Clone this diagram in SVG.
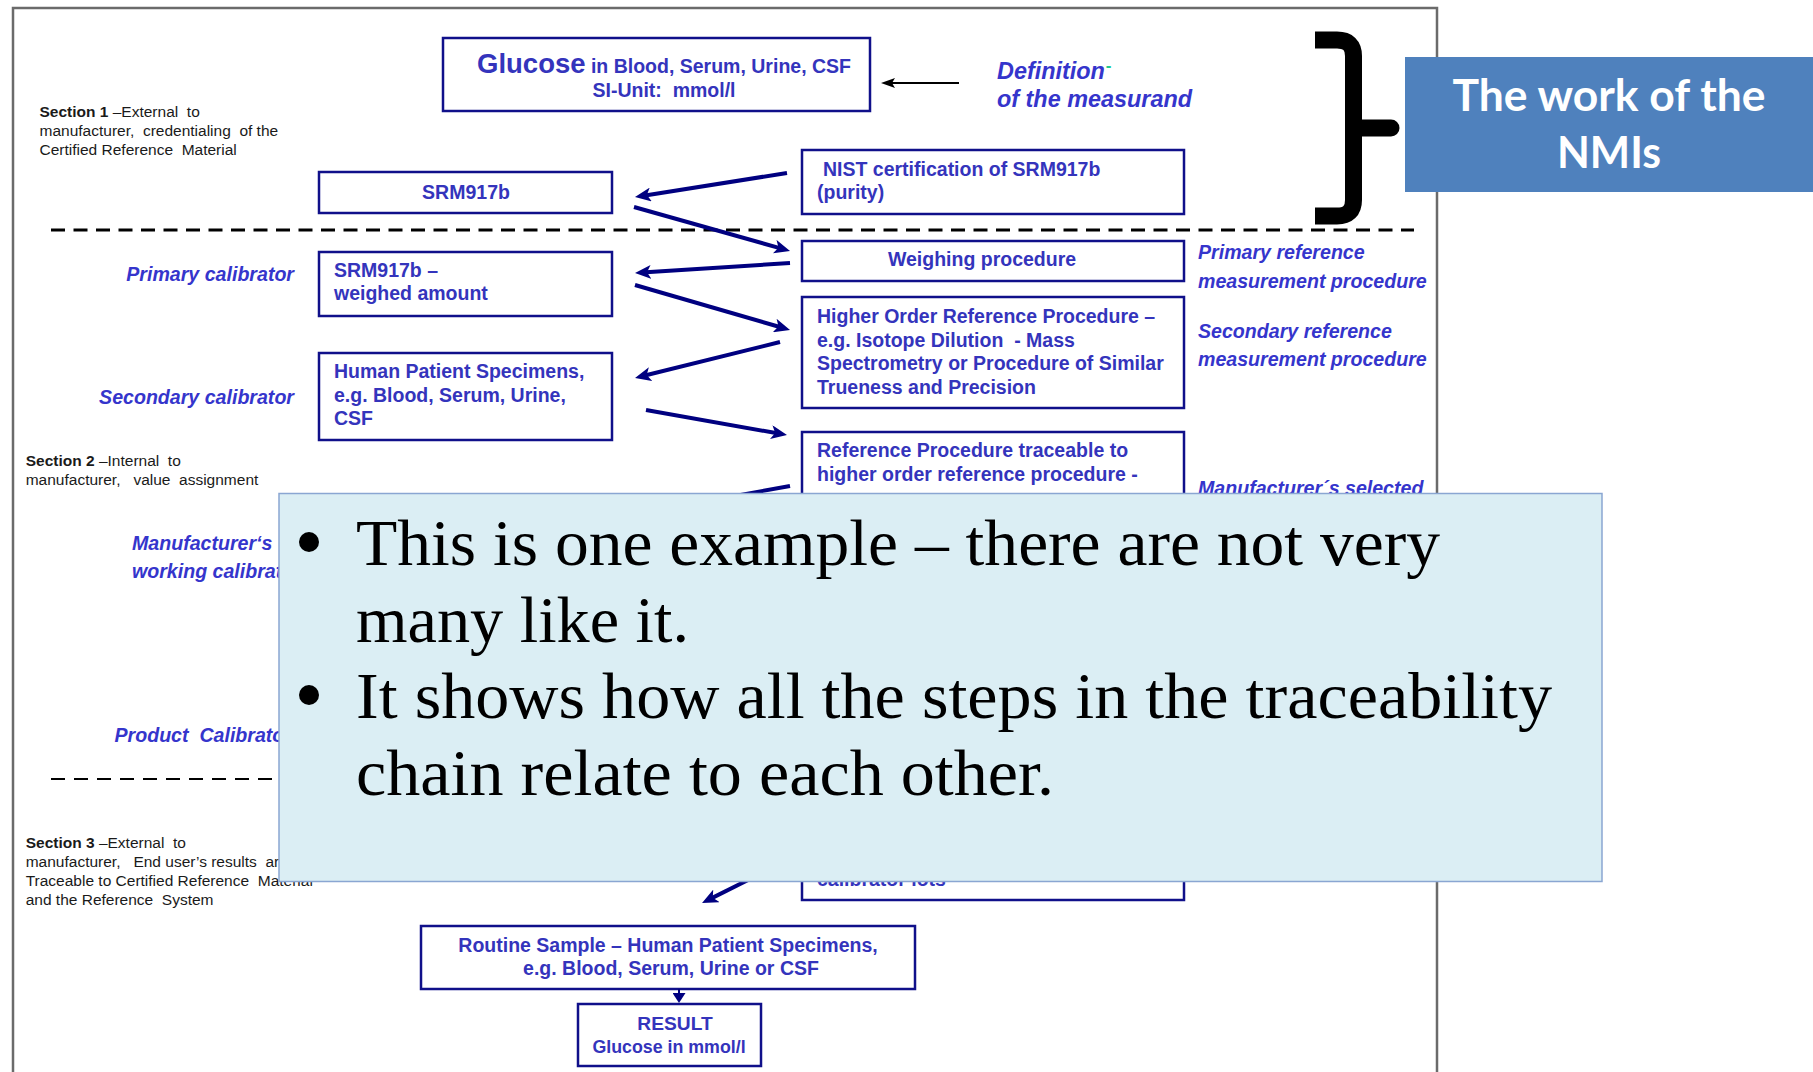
<svg xmlns="http://www.w3.org/2000/svg" width="1813" height="1072" viewBox="0 0 1813 1072">
  <style>
    .frame { fill: none; stroke: #6b6b6b; stroke-width: 2.5; }
    .box { fill: #ffffff; stroke: #10108a; stroke-width: 2.5; }
    .bt { font-family: "Liberation Sans", Arial, sans-serif; font-weight: bold; font-size: 19.5px; fill: #3434bc; }
    .lbl { font-family: "Liberation Sans", Arial, sans-serif; font-weight: bold; font-style: italic; font-size: 19.6px; fill: #3535cc; }
    .sec { font-family: "Liberation Sans", Arial, sans-serif; font-size: 15.5px; fill: #1a1a1a; }
    .secb { font-weight: bold; }
    .dash1 { stroke: #000; stroke-width: 3.2; stroke-dasharray: 14 8.5; fill: none; }
    .dash2 { stroke: #000; stroke-width: 2.2; stroke-dasharray: 14 9; fill: none; }
    .link { stroke: #000080; stroke-width: 4; fill: none; marker-end: url(#navyHead); }
    .note { font-family: "Liberation Serif", "Times New Roman", serif; font-size: 66px; fill: #000; }
  </style>
  <defs>
    <marker id="navyHead" markerUnits="userSpaceOnUse" markerWidth="16" markerHeight="14" viewBox="0 0 16 14" refX="9" refY="7" orient="auto">
      <path d="M0,0 L16,7 L0,14 L4,7 z" fill="#000080"/>
    </marker>
    <marker id="blackHead" markerUnits="userSpaceOnUse" markerWidth="14" markerHeight="10" viewBox="0 0 14 10" refX="8" refY="5" orient="auto">
      <path d="M0,0 L14,5 L0,10 L3,5 z" fill="#000"/>
    </marker>
    <marker id="tinyHead" markerUnits="userSpaceOnUse" markerWidth="10" markerHeight="13" viewBox="0 0 10 13" refX="0" refY="6.5" orient="auto">
      <path d="M0,0 L10,6.5 L0,13 z" fill="#000080"/>
    </marker>
  </defs>

  <rect width="1813" height="1072" fill="#ffffff"/>

  <!-- page frame (open at the bottom) -->
  <path class="frame" d="M13,1072 V8 H1437 V1072"/>

  <!-- section separators -->
  <line class="dash1" x1="51" y1="230" x2="1414" y2="230"/>
  <line class="dash2" x1="51" y1="779" x2="1414" y2="779"/>

  <!-- section captions -->
  <g id="section1">
    <text class="sec" x="39.5" y="117" xml:space="preserve"><tspan class="secb">Section 1</tspan> –External  to</text>
    <text class="sec" x="39.5" y="136" xml:space="preserve">manufacturer,  credentialing  of the</text>
    <text class="sec" x="39.5" y="155" xml:space="preserve">Certified Reference  Material</text>
  </g>
  <g id="section2">
    <text class="sec" x="25.7" y="466" xml:space="preserve"><tspan class="secb">Section 2</tspan> –Internal  to</text>
    <text class="sec" x="25.7" y="485" xml:space="preserve">manufacturer,   value  assignment</text>
  </g>
  <g id="section3">
    <text class="sec" x="25.7" y="848" xml:space="preserve"><tspan class="secb">Section 3</tspan> –External  to</text>
    <text class="sec" x="25.7" y="867" xml:space="preserve">manufacturer,   End user’s results  are</text>
    <text class="sec" x="25.7" y="886" xml:space="preserve">Traceable to Certified Reference  Material</text>
    <text class="sec" x="25.7" y="905" xml:space="preserve">and the Reference  System</text>
  </g>

  <!-- level labels, left column -->
  <g id="labels-left">
    <text class="lbl" x="294" y="281" text-anchor="end">Primary calibrator</text>
    <text class="lbl" x="294" y="404" text-anchor="end">Secondary calibrator</text>
    <text class="lbl" x="132" y="550">Manufacturer‘s</text>
    <text class="lbl" x="132" y="578">working calibrator</text>
    <text class="lbl" x="114.5" y="742" xml:space="preserve">Product  Calibrator</text>
  </g>

  <!-- level labels, right column -->
  <g id="labels-right">
    <text class="lbl" x="1198" y="259">Primary reference</text>
    <text class="lbl" x="1198" y="288">measurement procedure</text>
    <text class="lbl" x="1198" y="338">Secondary reference</text>
    <text class="lbl" x="1198" y="366">measurement procedure</text>
    <text class="lbl" x="1198" y="495">Manufacturer´s selected</text>
  </g>

  <!-- measurand definition -->
  <g id="definition">
    <text class="lbl" x="997" y="79" style="font-size:23.4px">Definition<tspan dx="1" dy="-8" style="font-size:17px;fill:#22c98f;font-style:normal">-</tspan></text>
    <text class="lbl" x="997" y="107" style="font-size:23.4px">of the measurand</text>
  </g>

  <!-- nodes -->
  <g id="glucose">
    <rect class="box" x="443" y="38" width="427" height="73"/>
    <text class="bt" x="664" y="73" text-anchor="middle"><tspan style="font-size:27.5px">Glucose</tspan> in Blood, Serum, Urine, CSF</text>
    <text class="bt" x="664" y="97" text-anchor="middle" xml:space="preserve">SI-Unit:  mmol/l</text>
  </g>

  <g id="srm917b">
    <rect class="box" x="319" y="172" width="293" height="41"/>
    <text class="bt" x="466" y="199" text-anchor="middle">SRM917b</text>
  </g>

  <g id="nist">
    <rect class="box" x="802" y="150" width="382" height="64"/>
    <text class="bt" x="823" y="176">NIST certification of SRM917b</text>
    <text class="bt" x="817" y="199">(purity)</text>
  </g>

  <g id="primary-calibrator">
    <rect class="box" x="319" y="252" width="293" height="64"/>
    <text class="bt" x="334" y="277">SRM917b –</text>
    <text class="bt" x="334" y="300">weighed amount</text>
  </g>

  <g id="weighing">
    <rect class="box" x="802" y="241" width="382" height="40"/>
    <text class="bt" x="982" y="266" text-anchor="middle">Weighing procedure</text>
  </g>

  <g id="higher-order">
    <rect class="box" x="802" y="297" width="382" height="111"/>
    <text class="bt" x="817" y="323">Higher Order Reference Procedure –</text>
    <text class="bt" x="817" y="347" xml:space="preserve">e.g. Isotope Dilution  - Mass</text>
    <text class="bt" x="817" y="370">Spectrometry or Procedure of Similar</text>
    <text class="bt" x="817" y="394">Trueness and Precision</text>
  </g>

  <g id="secondary-calibrator">
    <rect class="box" x="319" y="353" width="293" height="87"/>
    <text class="bt" x="334" y="378">Human Patient Specimens,</text>
    <text class="bt" x="334" y="401.5">e.g. Blood, Serum, Urine,</text>
    <text class="bt" x="334" y="425">CSF</text>
  </g>

  <g id="reference-procedure">
    <rect class="box" x="802" y="432" width="382" height="468"/>
    <text class="bt" x="817" y="457">Reference Procedure traceable to</text>
    <text class="bt" x="817" y="481">higher order reference procedure -</text>
    <text class="bt" x="817" y="886">calibrator lots</text>
  </g>

  <g id="routine-sample">
    <rect class="box" x="421" y="926" width="494" height="63"/>
    <text class="bt" x="668" y="952" text-anchor="middle">Routine Sample – Human Patient Specimens,</text>
    <text class="bt" x="671" y="975" text-anchor="middle">e.g. Blood, Serum, Urine or CSF</text>
  </g>

  <g id="result">
    <rect class="box" x="578" y="1004" width="183" height="62"/>
    <text class="bt" x="675" y="1030" text-anchor="middle" style="font-size:19.2px">RESULT</text>
    <text class="bt" x="669" y="1053" text-anchor="middle" style="font-size:17.8px">Glucose in mmol/l</text>
  </g>

  <!-- connectors -->
  <g id="connectors">
    <line x1="959" y1="83" x2="887" y2="83" stroke="#000" stroke-width="2" marker-end="url(#blackHead)"/>
    <line class="link" x1="787" y1="173" x2="641.9" y2="195.9"/>
    <line class="link" x1="634" y1="207" x2="783.3" y2="249.1"/>
    <line class="link" x1="790" y1="263" x2="642" y2="272.6"/>
    <line class="link" x1="635" y1="285" x2="783.3" y2="328"/>
    <line class="link" x1="780" y1="342" x2="641.8" y2="376.3"/>
    <line class="link" x1="646" y1="410" x2="780.1" y2="433.8"/>
    <line x1="790" y1="486" x2="735" y2="496" stroke="#000080" stroke-width="4"/>
    <line class="link" x1="762" y1="873" x2="708.3" y2="899.9"/>
    <line x1="679" y1="989" x2="679" y2="993" stroke="#000080" stroke-width="2" marker-end="url(#tinyHead)"/>
  </g>

  <!-- brace and caption box -->
  <g id="nmi-brace">
    <path d="M1315,40 H1337 Q1353.5,40 1353.5,56 V200 Q1353.5,216 1337,216 H1315" fill="none" stroke="#000" stroke-width="17"/>
    <line x1="1353.5" y1="128" x2="1391" y2="128" stroke="#000" stroke-width="17" stroke-linecap="round"/>
  </g>
  <g id="nmi-caption">
    <rect x="1405" y="57" width="408" height="135" fill="#4f81bd"/>
    <text x="1609" y="111" text-anchor="middle" font-family="Lato, 'Open Sans', sans-serif" font-weight="700" font-size="44" fill="#ffffff" textLength="313" lengthAdjust="spacingAndGlyphs">The work of the</text>
    <text x="1609" y="168" text-anchor="middle" font-family="Lato, 'Open Sans', sans-serif" font-weight="700" font-size="44" fill="#ffffff" textLength="104" lengthAdjust="spacingAndGlyphs">NMIs</text>
  </g>

  <!-- annotation panel -->
  <g id="note">
    <rect x="279" y="493.5" width="1323" height="388" fill="#dbeef4" stroke="#8aa6d2" stroke-width="1.5"/>
    <circle cx="309" cy="542" r="10" fill="#000"/>
    <circle cx="309" cy="695" r="10" fill="#000"/>
    <text class="note" x="356" y="565" textLength="1084" lengthAdjust="spacingAndGlyphs">This is one example – there are not very</text>
    <text class="note" x="356" y="642" textLength="333" lengthAdjust="spacingAndGlyphs">many like it.</text>
    <text class="note" x="356" y="718" textLength="1196" lengthAdjust="spacingAndGlyphs">It shows how all the steps in the traceability</text>
    <text class="note" x="356" y="795" textLength="698" lengthAdjust="spacingAndGlyphs">chain relate to each other.</text>
  </g>
</svg>
